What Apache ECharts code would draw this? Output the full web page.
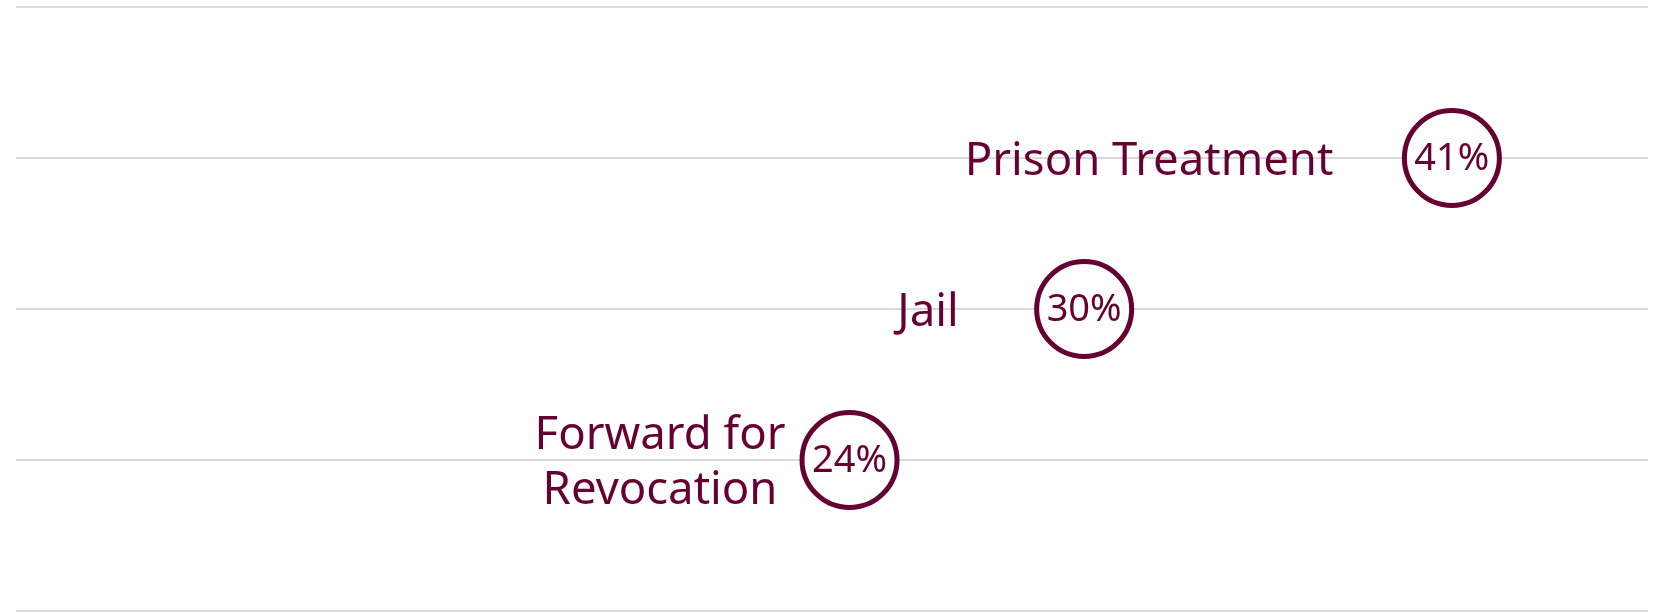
<!DOCTYPE html>
<html>
<head>
<meta charset="utf-8">
<script src="https://cdn.jsdelivr.net/npm/echarts@6/dist/echarts.min.js"></script>
<style>
    html, body { margin: 0; padding: 0; background: #fff; }
    #chart { width: 1665px; height: 613px; }
</style>
</head>
<body>
<div id="chart"></div>
<script>
    // rows of the chart, bottom to top (blank rows keep the outer grid lines)
    let categories = ['', 'Forward for\nRevocation', 'Jail', 'Prison Treatment', ''];
    let outcomes = ['Prison Treatment', 'Jail', 'Forward for\nRevocation'];
    let shares = [41.0, 30.5, 23.8];
    let shareLabels = ['41%', '30%', '24%'];

    let maroon = '#660033';

    function fnGetOutcomeChart() {
        let chartDom = document.getElementById('chart');
        let myChart = echarts.init(chartDom);

        // label offsets left of each circle
        let nameDistance = [118, 125, 189];
        let nameAlign = ['right', 'right', 'center'];

        let circles = [];
        let names = [];
        for (let index = 0; index < outcomes.length; index++) {
            circles.push({
                name: outcomes[index],
                value: [shares[index], outcomes[index]],
                label: { formatter: shareLabels[index] }
            });
            names.push({
                name: outcomes[index],
                value: [shares[index], outcomes[index]],
                label: { distance: nameDistance[index], align: nameAlign[index] }
            });
        }

        let config = {
            animation: false,
            grid: { left: 16, right: 17, top: 7, bottom: 2 },
            xAxis: {
                type: 'value',
                min: 0,
                max: 46.6,
                show: false
            },
            yAxis: {
                type: 'category',
                data: categories,
                boundaryGap: false,
                axisLine: { show: false },
                axisTick: { show: false },
                axisLabel: { show: false },
                splitLine: { show: true, lineStyle: { color: '#d9d9d9', width: 2 } }
            },
            series: [
                {
                    type: 'scatter',
                    symbol: 'circle',
                    symbolSize: 95,
                    itemStyle: { color: '#fff', borderColor: maroon, borderWidth: 5, opacity: 1 },
                    label: {
                        show: true,
                        position: 'inside',
                        color: maroon,
                        fontFamily: 'Noto Sans',
                        fontSize: 38,
                        offset: [0, 1]
                    },
                    data: circles,
                    z: 3
                },
                {
                    type: 'scatter',
                    symbolSize: 1,
                    itemStyle: { color: 'transparent', opacity: 1 },
                    label: {
                        show: true,
                        position: 'left',
                        formatter: '{b}',
                        color: maroon,
                        fontFamily: 'Noto Sans',
                        fontSize: 45.5,
                        lineHeight: 55,
                        offset: [0, 4]
                    },
                    data: names,
                    z: 2
                }
            ]
        };

        myChart.setOption(config);
        return myChart;
    }

    fnGetOutcomeChart();
</script>
</body>
</html>
